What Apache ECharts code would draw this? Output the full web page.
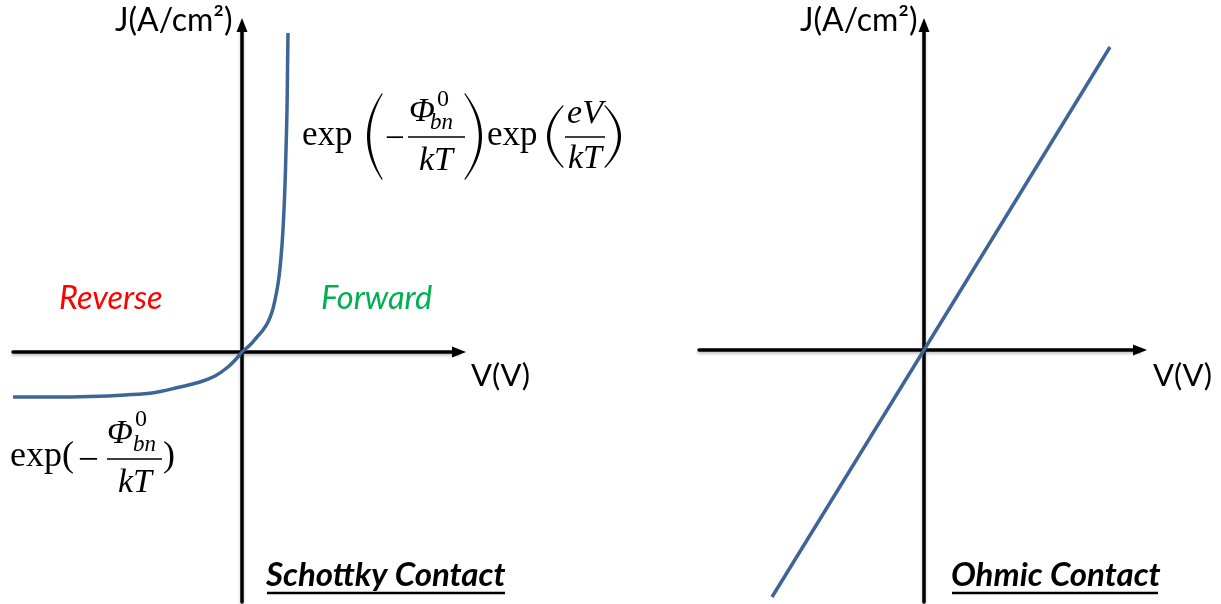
<!DOCTYPE html>
<html>
<head>
<meta charset="utf-8">
<script src="https://cdn.jsdelivr.net/npm/echarts@6/dist/echarts.min.js"></script>
<style>
  html, body { margin: 0; padding: 0; background: #ffffff; }
  #chart { width: 1221px; height: 604px; }
</style>
</head>
<body>
<div id="chart"></div>
<script>
// Schottky contact: current density vs. bias (arbitrary units)
const schottkyV = [-2.29, -1.92, -1.52, -1.17, -0.87, -0.62, -0.42, -0.27, -0.14, -0.05, 0, 0.08, 0.15, 0.21, 0.26, 0.30, 0.33, 0.36, 0.38, 0.40, 0.415, 0.43, 0.44, 0.45, 0.455, 0.46];
const schottkyJ = [-0.45, -0.45, -0.445, -0.43, -0.405, -0.35, -0.30, -0.24, -0.15, -0.06, 0, 0.07, 0.15, 0.22, 0.30, 0.40, 0.52, 0.68, 0.84, 1.07, 1.32, 1.67, 2.02, 2.42, 2.82, 3.19];

// Ohmic contact: linear J–V (arbitrary units)
const ohmicV = [-1.52, 0, 1.86];
const ohmicJ = [-2.47, 0, 3.03];

// Axis titles and annotations
const currentLabel = 'J(A/cm²)';
const voltageLabel = 'V(V)';
const regionLabels = ['Reverse', 'Forward'];
const panelTitles = ['Schottky Contact', 'Ohmic Contact'];

const CURVE_COLOR = '#3D6595';
const SANS = 'Lato';
const SERIF = '"Liberation Serif"';

const chart = echarts.init(document.getElementById('chart'));

function pairs(xs, ys) { return xs.map((x, i) => [x, ys[i]]); }

function axisBase(extra) {
  return Object.assign({
    type: 'value',
    axisLine: {
      show: true, onZero: true,
      symbol: ['none', 'triangle'], symbolSize: [11, 14],
      lineStyle: { color: '#000', width: 3.5, shadowColor: 'rgba(0,0,0,0.25)', shadowBlur: 3, shadowOffsetY: 2 }
    },
    axisTick: { show: false },
    axisLabel: { show: false },
    splitLine: { show: false }
  }, extra);
}

// text placed by its baseline (k = em-middle offset ratio)
function text(x, baseline, s, fontSpec, size, opts) {
  opts = opts || {};
  const k = opts.k !== undefined ? opts.k : 0.31;
  return {
    type: 'text', x: x, y: baseline - k * size, z: 10,
    style: {
      text: s, font: fontSpec, fill: opts.fill || '#000',
      align: opts.align || 'left', verticalAlign: 'middle'
    }
  };
}

function serif(x, baseline, s, size, italic, align) {
  return text(x, baseline, s, (italic ? 'italic ' : '') + size + 'px ' + SERIF, size, { align: align });
}

function sans(x, baseline, s, style, size, fill) {
  return text(x, baseline, s, style + ' ' + size + 'px ' + SANS, size, { fill: fill, k: 0.36 });
}

function hline(x1, x2, y, w) {
  return { type: 'line', z: 10, shape: { x1: x1, y1: y, x2: x2, y2: y }, style: { stroke: '#000', lineWidth: w } };
}

// Stretched parenthesis as a filled crescent (quadratic outline)
function paren(x0, x1, y0, y1, open) {
  const t = 3.2, n = 24, pts = [];
  const ym = (y0 + y1) / 2;
  const q = (a, c, b, s) => (1 - s) * (1 - s) * a + 2 * (1 - s) * s * c + s * s * b;
  let endX, bulge, dir;
  if (open) { endX = x1; bulge = x0; dir = 1; } else { endX = x0; bulge = x1; dir = -1; }
  const cOut = 2 * bulge - endX;
  const cIn = 2 * (bulge + dir * t) - (endX + dir * 0.6);
  for (let i = 0; i <= n; i++) {
    const s = i / n;
    pts.push([q(endX, cOut, endX, s), q(y0, ym, y1, s)]);
  }
  for (let i = n; i >= 0; i--) {
    const s = i / n;
    pts.push([q(endX + dir * 0.6, cIn, endX + dir * 0.6, s), q(y0 + 1, ym, y1 - 1, s)]);
  }
  return { type: 'polygon', z: 10, shape: { points: pts }, style: { fill: '#000' } };
}

const graphics = [
  // axis titles
  sans(115, 32, currentLabel, 'normal', 32, '#000'),
  sans(800, 32, currentLabel, 'normal', 32, '#000'),
  sans(471, 387, voltageLabel, 'normal', 31, '#000'),
  sans(1153, 387, voltageLabel, 'normal', 31, '#000'),
  // bias regions
  sans(59, 310, regionLabels[0], 'italic', 32.5, '#FF0000'),
  sans(321, 310, regionLabels[1], 'italic', 32.5, '#00B050'),
  // panel titles with underline
  sans(266, 587, panelTitles[0], 'italic bold', 33, '#000'),
  hline(267, 505, 593, 2.5),
  sans(951, 587, panelTitles[1], 'italic bold', 33, '#000'),
  hline(952, 1158, 593, 2.5),

  // forward-bias expression: exp(-Φ0bn/kT) exp(eV/kT)
  serif(302, 147, 'exp', 35),
  paren(367, 382, 93, 180, true),
  serif(385, 151, '−', 35),
  serif(409, 123, 'Φ', 34, true),
  serif(437, 107, '0', 24),
  serif(430, 130, 'bn', 23, true),
  hline(408, 465, 137, 1.6),
  serif(436, 172, 'kT', 34, true, 'center'),
  paren(465, 482, 93, 180, false),
  serif(487, 147, 'exp', 35),
  paren(547, 563, 105, 168, true),
  serif(585, 125, 'eV', 34, true, 'center'),
  hline(565, 605, 137, 1.6),
  serif(585, 170, 'kT', 34, true, 'center'),
  paren(605, 621, 105, 168, false),

  // reverse saturation expression: exp(-Φ0bn/kT)
  serif(10, 468, 'exp(', 36),
  serif(78, 473, '−', 37),
  serif(107, 445, 'Φ', 34, true),
  serif(135, 427, '0', 24),
  serif(133, 452, 'bn', 23, true),
  hline(107, 162, 459, 1.6),
  serif(135, 494, 'kT', 34, true, 'center'),
  serif(163, 468, ')', 36)
];

chart.setOption({
  animation: false,
  backgroundColor: '#ffffff',
  grid: [
    { left: 13, right: 762, top: 25, bottom: 2 },
    { left: 699, right: 81, top: 25, bottom: 2 }
  ],
  xAxis: [
    axisBase({ gridIndex: 0, min: -2.29, max: 2.17 }),
    axisBase({ gridIndex: 1, min: -2.25, max: 2.16 })
  ],
  yAxis: [
    axisBase({ gridIndex: 0, min: -2.50, max: 3.27 }),
    axisBase({ gridIndex: 1, min: -2.52, max: 3.25 })
  ],
  series: [
    {
      type: 'line', xAxisIndex: 0, yAxisIndex: 0,
      data: pairs(schottkyV, schottkyJ),
      smooth: 0.4, showSymbol: false, clip: false,
      lineStyle: { color: CURVE_COLOR, width: 3.5 }
    },
    {
      type: 'line', xAxisIndex: 1, yAxisIndex: 1,
      data: pairs(ohmicV, ohmicJ),
      showSymbol: false, clip: false,
      lineStyle: { color: CURVE_COLOR, width: 3.5 }
    }
  ],
  graphic: graphics
});
</script>
</body>
</html>
